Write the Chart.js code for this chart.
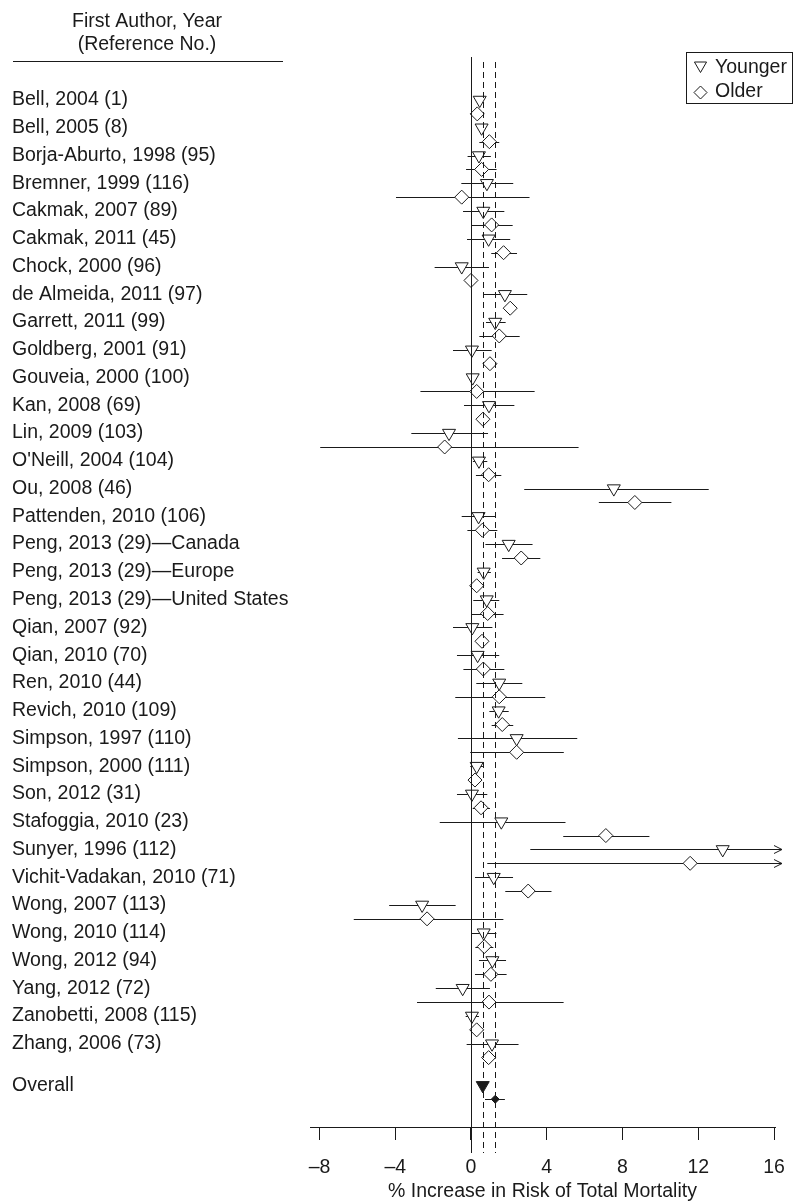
<!DOCTYPE html>
<html>
<head>
<meta charset="utf-8">
<script src="https://cdn.jsdelivr.net/npm/chart.js@4.4.0/dist/chart.umd.min.js"></script>
<style>
  html, body { margin: 0; padding: 0; background: #fff; }
  #wrap { width: 794px; height: 1201px; }
</style>
</head>
<body>
<div id="wrap"><canvas id="chart" width="794" height="1201"></canvas></div>
<script>
// studies, top to bottom
const studies = [
  'Bell, 2004 (1)', 'Bell, 2005 (8)', 'Borja-Aburto, 1998 (95)', 'Bremner, 1999 (116)',
  'Cakmak, 2007 (89)', 'Cakmak, 2011 (45)', 'Chock, 2000 (96)', 'de Almeida, 2011 (97)',
  'Garrett, 2011 (99)', 'Goldberg, 2001 (91)', 'Gouveia, 2000 (100)', 'Kan, 2008 (69)',
  'Lin, 2009 (103)', "O'Neill, 2004 (104)", 'Ou, 2008 (46)', 'Pattenden, 2010 (106)',
  'Peng, 2013 (29)\u2014Canada', 'Peng, 2013 (29)\u2014Europe', 'Peng, 2013 (29)\u2014United States',
  'Qian, 2007 (92)', 'Qian, 2010 (70)', 'Ren, 2010 (44)', 'Revich, 2010 (109)',
  'Simpson, 1997 (110)', 'Simpson, 2000 (111)', 'Son, 2012 (31)', 'Stafoggia, 2010 (23)',
  'Sunyer, 1996 (112)', 'Vichit-Vadakan, 2010 (71)', 'Wong, 2007 (113)', 'Wong, 2010 (114)',
  'Wong, 2012 (94)', 'Yang, 2012 (72)', 'Zanobetti, 2008 (115)', 'Zhang, 2006 (73)'
];

// younger age group: estimate and 95% CI (% increase)
const youngEst = [0.46, 0.56, 0.42, 0.84, 0.65, 0.93, -0.49, 1.79, 1.28, 0.05, 0.09, 0.95,
  -1.16, 0.42, 7.54, 0.40, 1.99, 0.67, 0.83, 0.07, 0.35, 1.49, 1.46, 2.41, 0.30, 0.05,
  1.60, 13.29, 1.20, -2.58, 0.67, 1.13, -0.44, 0.05, 1.11];
const youngLo = [0.30, 0.40, -0.18, -0.51, -0.42, -0.21, -1.92, 0.65, 0.79, -0.95, -0.10, -0.37,
  -3.15, 0.10, 2.81, -0.49, 0.76, 0.35, 0.12, -0.95, -0.74, 0.28, 0.97, -0.69, -0.04, -0.74,
  -1.65, 3.13, 0.21, -4.32, 0.04, 0.42, -1.86, -0.28, -0.23];
const youngHi = [0.62, 0.72, 1.05, 2.23, 1.76, 2.07, 0.95, 2.97, 1.83, 1.09, 0.30, 2.29,
  0.90, 0.86, 12.55, 1.30, 3.25, 1.05, 1.49, 1.13, 1.49, 2.71, 1.99, 5.61, 0.63, 0.86,
  4.99, 23.0, 2.22, -0.81, 1.34, 1.85, 1.00, 0.42, 2.51];

// older age group
const oldEst = [0.33, 0.97, 0.56, -0.49, 1.09, 1.72, 0.00, 2.07, 1.49, 1.00, 0.30, 0.63,
  -1.39, 0.93, 8.65, 0.60, 2.65, 0.30, 0.88, 0.58, 0.65, 1.49, 1.65, 2.41, 0.21, 0.53,
  7.12, 11.57, 3.02, -2.32, 0.70, 1.05, 0.95, 0.30, 0.93];
const oldLo = [0.20, 0.44, -0.26, -3.96, 0.04, 1.07, -0.15, 1.90, 0.44, 0.85, -2.67, 0.50,
  -7.96, 0.26, 6.75, -0.19, 1.64, -0.04, 0.04, 0.45, -0.40, -0.83, 1.09, -0.04, 0.10, 0.09,
  4.87, 0.86, 1.81, -6.19, 0.23, 0.21, -2.85, -0.05, 0.60];
const oldHi = [0.50, 1.49, 1.35, 3.09, 2.20, 2.43, 0.15, 2.25, 2.57, 1.15, 3.36, 0.78,
  5.68, 1.60, 10.58, 1.39, 3.66, 0.67, 1.72, 0.72, 1.76, 3.92, 2.23, 4.90, 0.32, 1.00,
  9.42, 23.0, 4.25, 1.71, 1.18, 1.88, 4.89, 0.65, 1.30];

// pooled estimates [estimate, lower, upper]
const overallYoung = [0.62, 0.50, 0.75];
const overallOld = [1.28, 0.74, 1.79];

const xTicks = [-8, -4, 0, 4, 8, 12, 16];

const INK = '#1a1a1a';
const FONT = '"Liberation Sans", Arial, Helvetica, sans-serif';
Chart.defaults.font.family = FONT;
Chart.defaults.font.size = 19.5;
Chart.defaults.color = INK;

// row index on the y scale: younger 2i, older 2i+1, pooled below a gap
const overallRow = 2 * studies.length + 1;
const tickRows = studies.map((s, i) => 2 * i).concat([overallRow]);
const rowLabels = studies.concat(['Overall']);

const errorBars = {
  id: 'errorBars',
  beforeDatasetsDraw(chart) {
    const { ctx, chartArea } = chart;
    const xs = chart.scales.x, ys = chart.scales.y;
    ctx.save();
    ctx.strokeStyle = INK;
    ctx.lineWidth = 1;
    const bar = (lo, hi, row) => {
      const py = Math.round(ys.getPixelForValue(row)) + 0.5;
      const x0 = xs.getPixelForValue(Math.max(lo, xs.min));
      const over = hi > xs.max;
      const x1 = over ? chartArea.right + 7 : xs.getPixelForValue(hi);
      ctx.beginPath();
      ctx.moveTo(x0, py);
      ctx.lineTo(x1, py);
      if (over) {
        ctx.moveTo(x1 - 8, py - 4);
        ctx.lineTo(x1, py);
        ctx.lineTo(x1 - 8, py + 4);
      }
      ctx.stroke();
    };
    studies.forEach((s, i) => {
      bar(youngLo[i], youngHi[i], 2 * i);
      bar(oldLo[i], oldHi[i], 2 * i + 1);
    });
    bar(overallYoung[1], overallYoung[2], overallRow);
    bar(overallOld[1], overallOld[2], overallRow + 1);
    ctx.restore();
  },
  afterDatasetsDraw(chart) {
    const { ctx, chartArea } = chart;
    const xs = chart.scales.x;
    ctx.save();
    ctx.strokeStyle = INK;
    ctx.lineWidth = 1;
    const vline = (v, dash, top) => {
      const px = Math.round(xs.getPixelForValue(v)) + 0.5;
      ctx.setLineDash(dash);
      ctx.beginPath();
      ctx.moveTo(px, top);
      ctx.lineTo(px, chartArea.bottom + 26);
      ctx.stroke();
    };
    vline(0, [], chartArea.top);
    vline(overallYoung[0], [6, 4], chartArea.top + 5);
    vline(overallOld[0], [6, 4], chartArea.top + 5);
    ctx.restore();
  },
  afterDraw(chart) {
    const { ctx } = chart;
    ctx.save();
    ctx.fillStyle = INK;
    ctx.strokeStyle = INK;
    ctx.lineWidth = 1;
    ctx.font = '19.5px ' + FONT;
    ctx.textBaseline = 'middle';
    // column header
    ctx.textAlign = 'center';
    ctx.fillText('First Author, Year', 147, 22);
    ctx.fillText('(Reference No.)', 147, 45);
    ctx.beginPath();
    ctx.moveTo(13, 61.5);
    ctx.lineTo(283, 61.5);
    ctx.stroke();
    // legend box
    ctx.strokeRect(686.5, 52.5, 106, 51);
    ctx.fillStyle = '#fff';
    const r = 7;
    ctx.beginPath();
    ctx.moveTo(700.5, 65.5 + r);
    ctx.lineTo(700.5 - r * 0.866, 65.5 - r / 2);
    ctx.lineTo(700.5 + r * 0.866, 65.5 - r / 2);
    ctx.closePath();
    ctx.fill(); ctx.stroke();
    ctx.beginPath();
    ctx.moveTo(700.5, 86);
    ctx.lineTo(707, 92.5);
    ctx.lineTo(700.5, 99);
    ctx.lineTo(694, 92.5);
    ctx.closePath();
    ctx.fill(); ctx.stroke();
    ctx.fillStyle = INK;
    ctx.textAlign = 'left';
    ctx.fillText('Younger', 715, 68);
    ctx.fillText('Older', 715, 92);
    ctx.restore();
  }
};

const marker = (style, rot, radius, fill) => ({
  pointStyle: style, pointRotation: rot, pointRadius: radius,
  pointBackgroundColor: fill, pointBorderColor: INK, pointBorderWidth: 1,
  showLine: false
});

new Chart(document.getElementById('chart'), {
  type: 'scatter',
  data: {
    datasets: [
      Object.assign({ label: 'Younger', data: youngEst.map((v, i) => ({ x: v, y: 2 * i })) },
        marker('triangle', 180, 7.5, '#fff')),
      Object.assign({ label: 'Older', data: oldEst.map((v, i) => ({ x: v, y: 2 * i + 1 })) },
        marker('rectRot', 0, 7, '#fff')),
      Object.assign({ label: 'Overall younger', data: [{ x: overallYoung[0], y: overallRow }] },
        marker('triangle', 180, 7.5, INK)),
      Object.assign({ label: 'Overall older', data: [{ x: overallOld[0], y: overallRow + 1 }] },
        marker('rectRot', 0, 4, INK))
    ]
  },
  options: {
    responsive: false,
    devicePixelRatio: 1,
    animation: false,
    events: [],
    layout: { padding: { left: 12, right: 19, top: 57, bottom: 0 } },
    plugins: { legend: { display: false }, tooltip: { enabled: false } },
    scales: {
      x: {
        type: 'linear', min: -8.5, max: 16.05,
        afterBuildTicks: s => { s.ticks = xTicks.map(v => ({ value: v })); },
        afterFit: s => { s.height = 74; s.paddingLeft = 0; s.paddingRight = 0; },
        grid: { drawOnChartArea: false, tickLength: 13, color: INK },
        border: { color: INK, width: 1 },
        ticks: {
          padding: 16, maxRotation: 0, autoSkip: false,
          callback: v => (v < 0 ? '\u2013' + Math.abs(v) : String(v))
        },
        title: {
          display: true, text: '% Increase in Risk of Total Mortality',
          padding: { top: 0, bottom: -2 }
        }
      },
      y: {
        type: 'linear', reverse: true, min: -3.1, max: 74,
        afterBuildTicks: s => { s.ticks = tickRows.map(v => ({ value: v })); },
        afterFit: s => { s.width = 298; },
        grid: { display: false },
        border: { display: false },
        ticks: {
          autoSkip: false, crossAlign: 'far', padding: 0,
          callback: v => rowLabels[tickRows.indexOf(v)] || ''
        }
      }
    }
  },
  plugins: [errorBars]
});
</script>
</body>
</html>
